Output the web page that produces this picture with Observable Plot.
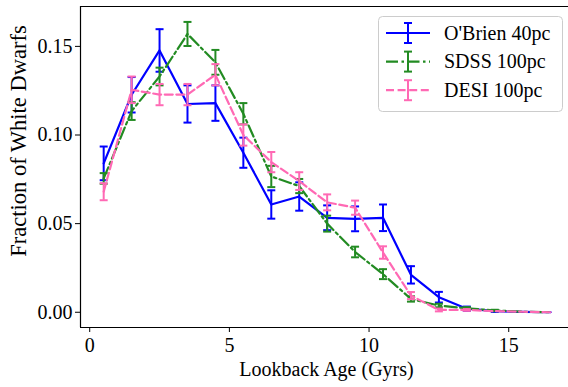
<!DOCTYPE html>
<html>
<head>
<meta charset="utf-8">
<script src="https://cdn.jsdelivr.net/npm/d3@7"></script>
<script src="https://cdn.jsdelivr.net/npm/@observablehq/plot@0.6"></script>
<style>
  html, body { margin: 0; padding: 0; background: #fff; overflow: hidden; }
  #wrap { position: relative; width: 568px; height: 387px; }
  #chart svg text { font-family: "Liberation Serif", "Times New Roman", serif !important; font-size: 20px; font-variant: normal !important; }
  #chart svg { overflow: hidden; }
  #legend { position: absolute; left: 378px; top: 16px; }
  #legend text { font-family: "Liberation Serif", "Times New Roman", serif; font-size: 20px; fill: #000; }
</style>
</head>
<body>
<div id="wrap">
  <div id="chart"></div>
  <div id="legend"></div>
</div>
<script>
// ---- data ----
const ages = [0.5, 1.5, 2.5, 3.5, 4.5, 5.5, 6.5, 7.5, 8.5, 9.5, 10.5, 11.5, 12.5, 13.5, 14.5, 15.5, 16.5];

const obrien    = [0.084, 0.1227, 0.1477, 0.1175, 0.118, 0.090, 0.0608, 0.0653, 0.0533, 0.0527, 0.0533, 0.0211, 0.0085, 0.0020, 0.0006, 0.0002, 0.0];
const obrienErr = [0.0095, 0.010, 0.012, 0.0105, 0.010, 0.0085, 0.008, 0.008, 0.007, 0.007, 0.0075, 0.0049, 0.003, 0.0012, 0.0004, 0.0, 0.0];

const sdss      = [0.0755, 0.1135, 0.133, 0.157, 0.141, 0.112, 0.0766, 0.0712, 0.050, 0.034, 0.0215, 0.0075, 0.0038, 0.0022, 0.0010, 0.0003, 0.0];
const sdssErr   = [0.003, 0.005, 0.005, 0.0068, 0.007, 0.006, 0.006, 0.004, 0.0045, 0.003, 0.0028, 0.0015, 0.001, 0.0007, 0.0004, 0.0, 0.0];

const desi      = [0.068, 0.1255, 0.1228, 0.1228, 0.134, 0.100, 0.0847, 0.074, 0.062, 0.059, 0.0337, 0.0094, 0.0013, 0.0013, 0.0006, 0.0003, 0.0];
const desiErr   = [0.0048, 0.0075, 0.006, 0.006, 0.006, 0.006, 0.0057, 0.005, 0.0045, 0.004, 0.0035, 0.002, 0.0008, 0.0005, 0.0, 0.0, 0.0];

const seriesNames = ["O'Brien 40pc", "SDSS 100pc", "DESI 100pc"];
const seriesColors = ["#0000ff", "#228b22", "#ff69b4"];
const seriesDash = [null, "12,3.5,2.5,3.5", "8,3.6"];

const xTicks = [0, 5, 10, 15];
const yTicks = [0, 0.05, 0.10, 0.15];
const xLabel = "Lookback Age (Gyrs)";
const yLabel = "Fraction of White Dwarfs";

// ---- build ----
const seriesValues = [obrien, sdss, desi];
const seriesErrs = [obrienErr, sdssErr, desiErr];
const tables = seriesNames.map((name, s) =>
  ages.map((age, i) => ({series: name, age, v: seriesValues[s][i], e: seriesErrs[s][i]}))
);

const xDomain = [-0.33, 17.14];
const yDomain = [-0.0086, 0.1725];

const cap = { draw(ctx) { ctx.moveTo(-4, 0); ctx.lineTo(4, 0); } };

const marks = [];
tables.forEach((rows, s) => {
  const color = seriesColors[s];
  const withErr = rows.filter(d => d.e > 0);
  marks.push(
    Plot.ruleX(withErr, {x: "age", y1: d => d.v - d.e, y2: d => d.v + d.e, stroke: color, strokeWidth: 2}),
    Plot.dot(withErr, {x: "age", y: d => d.v + d.e, symbol: cap, stroke: color, strokeWidth: 2, fill: "none"}),
    Plot.dot(withErr, {x: "age", y: d => d.v - d.e, symbol: cap, stroke: color, strokeWidth: 2, fill: "none"}),
    Plot.line(rows, {x: "age", y: "v", stroke: color, strokeWidth: 2.2, strokeDasharray: seriesDash[s] || undefined})
  );
});

// spines (left, top, bottom; right spine lies outside the cropped picture)
marks.push(
  Plot.ruleX([xDomain[0]], {stroke: "#000", strokeWidth: 1.2}),
  Plot.ruleY([yDomain[0], yDomain[1]], {stroke: "#000", strokeWidth: 1.2}),
  Plot.text([xLabel], {frameAnchor: "bottom", dy: 42, dx: 2, textAnchor: "middle", lineAnchor: "middle", fill: "#000"}),
  Plot.text([yLabel], {frameAnchor: "left", dx: -62, dy: -26, rotate: -90, textAnchor: "middle", lineAnchor: "middle", fill: "#000"})
);

const chart = Plot.plot({
  width: 568,
  height: 387,
  marginLeft: 80,
  marginRight: 0,
  marginTop: 6,
  marginBottom: 60,
  style: {background: "white", color: "black", fontFamily: "Liberation Serif, serif", fontSize: "20px"},
  x: {domain: xDomain, ticks: xTicks, tickFormat: d3.format("d"), tickSize: 5, tickPadding: 5, label: null},
  y: {domain: yDomain, ticks: yTicks, tickFormat: d3.format(".2f"), tickSize: 5, tickPadding: 3, label: null},
  marks
});
document.getElementById("chart").appendChild(chart);
d3.select(chart).selectAll("text").filter(function() { return this.textContent === yLabel; })
  .style("font-size", "22.5px");

// ---- legend ----
const lw = 184, lh = 95;
const leg = d3.select("#legend").append("svg").attr("width", lw + 2).attr("height", lh + 2);
leg.append("rect").attr("x", 0.5).attr("y", 0.5).attr("width", lw).attr("height", lh)
  .attr("rx", 4).attr("fill", "rgba(255,255,255,0.8)").attr("stroke", "#cccccc").attr("stroke-width", 1);
seriesNames.forEach((name, i) => {
  const cy = 17 + i * 28.6;
  const g = leg.append("g").attr("stroke", seriesColors[i]).attr("stroke-width", 2).attr("fill", "none");
  g.append("line").attr("x1", 8).attr("x2", 52).attr("y1", cy).attr("y2", cy)
    .attr("stroke-width", 2.2).attr("stroke-dasharray", seriesDash[i]);
  g.append("line").attr("x1", 30).attr("x2", 30).attr("y1", cy - 10).attr("y2", cy + 10);
  g.append("line").attr("x1", 26).attr("x2", 34).attr("y1", cy - 10).attr("y2", cy - 10);
  g.append("line").attr("x1", 26).attr("x2", 34).attr("y1", cy + 10).attr("y2", cy + 10);
  leg.append("text").attr("x", 66).attr("y", cy).attr("dy", "0.33em").text(name);
});
</script>
</body>
</html>
